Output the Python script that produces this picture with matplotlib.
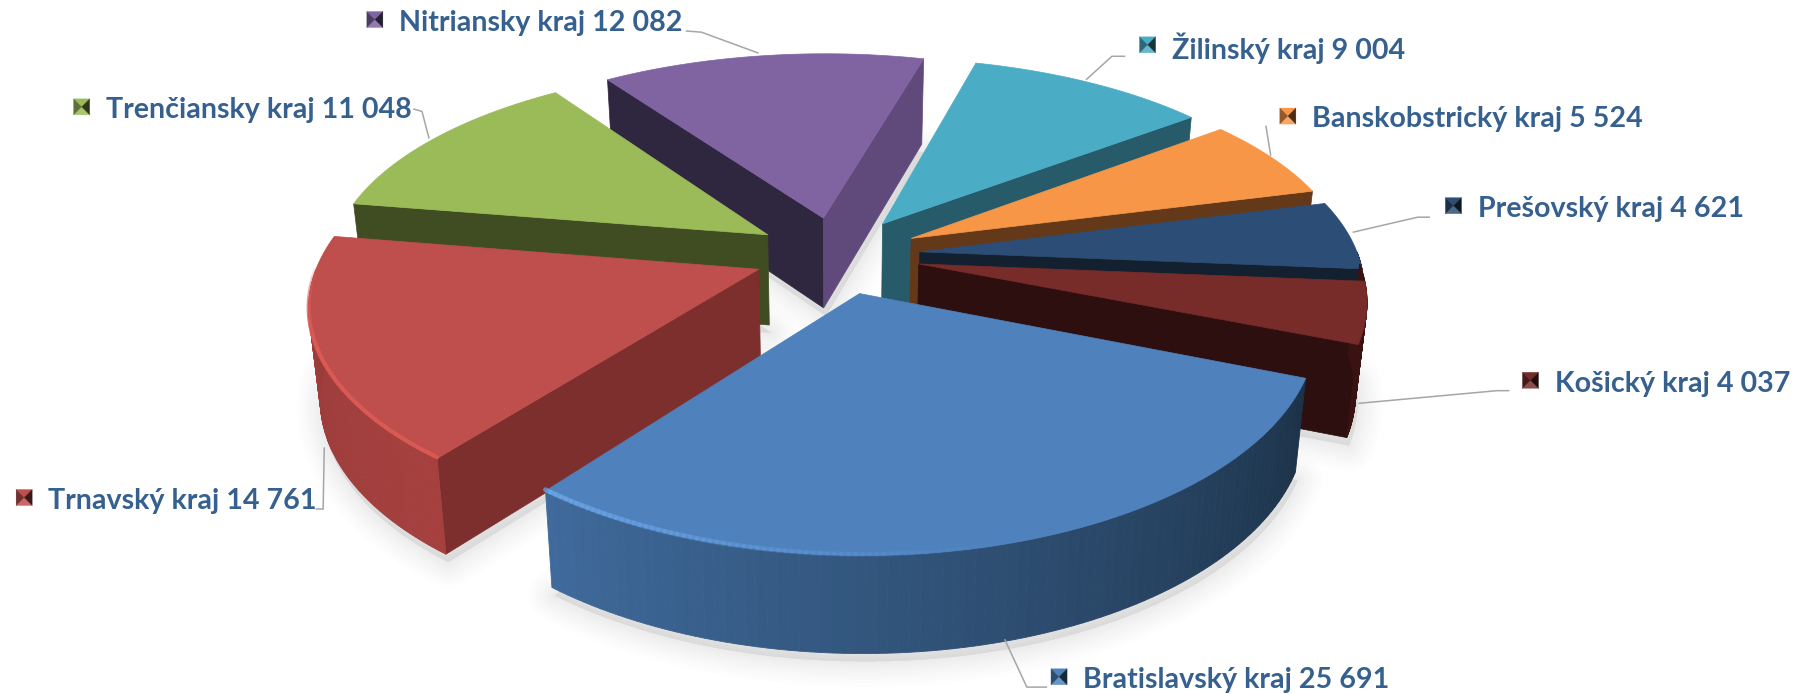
import numpy as np
import matplotlib
matplotlib.use('Agg')
import matplotlib.pyplot as plt
from matplotlib.colors import to_rgb
from matplotlib.patches import Polygon
from matplotlib.collections import LineCollection

# clockwise on screen, starting with the big slice
regions = ['Bratislavský kraj', 'Trnavský kraj', 'Trenčiansky kraj', 'Nitriansky kraj',
           'Žilinský kraj', 'Banskobstrický kraj', 'Prešovský kraj', 'Košický kraj']
values = [25691, 14761, 11048, 12082, 9004, 5524, 4621, 4037]

top_colors = ['#4F81BD', '#BE4F4C', '#9BBB59', '#8064A2', '#4BACC6', '#F79646', '#2C4D75', '#772C2A']
wall_in = ['#1E3550', '#7D2F2E', '#404D22', '#2F2640', '#275B6A', '#64391A', '#12202F', '#2E0F0F']
wall_out = ['#1E3550', '#7D2F2E', '#404D22', '#604A7B', '#275B6A', '#64391A', '#12202F', '#2E0F0F']
arc_from = ['#1C3248', '#A5403E', '#404D22', '#604A7B', '#275B6A', '#64391A', '#12202F', '#3A1212']
arc_to = ['#3F6A9B', '#9A3C3A', '#404D22', '#604A7B', '#275B6A', '#64391A', '#12202F', '#3A1212']

label_x = [942, 42, 92, 347, 1019, 1141, 1285, 1352]
label_y = [592, 436, 96, 20, 42, 104, 182, 334]
leaders = [
    [(874, 557), (893, 598), (910, 598)],
    [(275, 443), (281, 443), (282, 390)],
    [(360, 95), (367, 97), (373, 120)],
    [(597, 27), (610, 28), (659, 46)],
    [(978, 49), (967, 49), (945, 69)],
    [(1101, 110), (1105, 135)],
    [(1243, 189), (1233, 189), (1177, 202)],
    [(1312, 340), (1302, 340), (1182, 351)],
]

draw_order = [3, 4, 2, 5, 6, 1, 7, 0]

cx, cy = 728, 222
ax_x, ax_y = 381, 177
persp = 0.168
persp_x = 0.9
explode = 0.19
height = 79
squeeze = 0.022
start_angle = 21.5
text_color = '#35608F'

fig = plt.figure(figsize=(18.03, 6.94), dpi=100)
ax = fig.add_axes([0, 0, 1, 1])
ax.set_xlim(0, 1568)
ax.set_ylim(604, 0)
ax.axis('off')


def project(u, v, bottom=False):
    w = 1 - persp * v
    x = cx + ax_x * u / w ** persp_x
    y = cy + ax_y * v / w
    if bottom:
        x = cx + (x - cx) * (1 - squeeze)
        y = y + height / w ** 0.35
    return np.column_stack([x, y])


def slice_points(off, a0, a1, n=60):
    t = np.radians(np.linspace(a0, a1, n))
    return off[0] + np.cos(t), off[1] + np.sin(t)


spans = np.array(values) / sum(values) * 360
starts = start_angle + np.concatenate([[0], np.cumsum(spans)[:-1]])
ends = starts + spans
offsets = []
for a0, a1 in zip(starts, ends):
    mid = np.radians((a0 + a1) / 2)
    offsets.append((explode * np.cos(mid), explode * np.sin(mid)))

# soft shadow below the slices
for i in [3, 2, 1, 7, 0]:
    u, v = slice_points(offsets[i], starts[i], ends[i])
    u = np.append(u, offsets[i][0])
    v = np.append(v, offsets[i][1])
    pts = project(u, v, bottom=True) + [2, 7]
    for lw in [36, 31, 26, 22, 18, 14, 10, 7, 4]:
        ax.add_patch(Polygon(pts, closed=True, facecolor='#666666', edgecolor='#666666',
                             lw=lw, alpha=0.012, joinstyle='round', zorder=1))

z = 2
for i in draw_order:
    a0, a1 = starts[i], ends[i]
    off = offsets[i]
    apex_t = project(np.array([off[0]]), np.array([off[1]]))
    apex_b = project(np.array([off[0]]), np.array([off[1]]), bottom=True)

    # radial walls
    for ang, col, normal in [(a0, wall_in[i], a0 - 90), (a1, wall_out[i], a1 + 90)]:
        if np.sin(np.radians(normal)) <= 0:
            continue
        u, v = slice_points(off, ang, ang, 1)
        poly = np.vstack([apex_t, project(u, v), project(u, v, bottom=True), apex_b])
        ax.add_patch(Polygon(poly, closed=True, facecolor=col, edgecolor=col, lw=0.5, zorder=z))
        z += 1

    # outer wall, shaded in small strips
    lo, hi = max(a0, 0), min(a1, 180)
    if a1 > 360:
        lo, hi = 360, min(a1, 540)
    if hi > lo:
        edges = np.linspace(lo, hi, 90)
        c0, c1 = np.array(to_rgb(arc_from[i])), np.array(to_rgb(arc_to[i]))
        for k in range(len(edges) - 1):
            u, v = slice_points(off, edges[k], edges[k + 1], 2)
            poly = np.vstack([project(u, v), project(u, v, bottom=True)[::-1]])
            col = c0 + (c1 - c0) * k / (len(edges) - 2)
            ax.add_patch(Polygon(poly, closed=True, facecolor=col, edgecolor=col, lw=0.6, zorder=z))
        z += 1

    # top face
    u, v = slice_points(off, a0, a1, 120)
    poly = np.vstack([apex_t, project(u, v)])
    ax.add_patch(Polygon(poly, closed=True, facecolor=top_colors[i], edgecolor=top_colors[i],
                         lw=0.5, zorder=z))
    z += 1

# light rim on the two front slices
for i, col, lw, a_hi, a_lo in [(1, '#DB5A56', 3.0, ends[1] - 8, starts[1]), (0, '#6BA6E8', 3.5, ends[0], ends[0] - 60)]:
    u, v = slice_points(offsets[i], a_lo, a_hi, 80)
    pts = project(u, v) + [0, -1]
    segs = np.stack([pts[:-1], pts[1:]], axis=1)
    rgb = to_rgb(col)
    if i == 1:
        alpha = 0.85 * np.minimum(1, 2.5 * (1 - np.linspace(0, 1, 79)))
    else:
        alpha = 0.7 * np.linspace(0, 1, 79) ** 1.5
    ax.add_collection(LineCollection(segs, colors=[(*rgb, a) for a in alpha], linewidths=lw,
                                     capstyle='round', zorder=z))
z += 1

# leader lines
for pts in leaders:
    xs, ys = zip(*pts)
    ax.plot(xs, ys, color='#A6A6A6', lw=1.1, zorder=z, solid_joinstyle='miter')


def bevel_key(x0, yc, col, size=14):
    base = np.array(to_rgb(col))
    s = size / 2
    xc = x0
    c = (xc, yc)
    tl, tr = (xc - s, yc - s), (xc + s, yc - s)
    bl, br = (xc - s, yc + s), (xc + s, yc + s)
    faces = [([tl, tr, c], base),
             ([bl, br, c], base * 0.85 + 0.15),
             ([tl, bl, c], base * 0.6),
             ([tr, br, c], base * 0.3)]
    for tri, shade in faces:
        ax.add_patch(Polygon(tri, closed=True, facecolor=shade, edgecolor=shade, lw=0.2, zorder=z + 1))


for i, name in enumerate(regions):
    txt = f'{name} {values[i]:,}'.replace(',', ' ')
    ax.text(label_x[i], label_y[i], txt, family='Lato', weight='bold', fontsize=20.6, color=text_color,
            ha='left', va='center', zorder=z + 2)
    bevel_key(label_x[i] - 21, label_y[i] - 3, top_colors[i])

fig.savefig('out.png', dpi=100, facecolor='white')
